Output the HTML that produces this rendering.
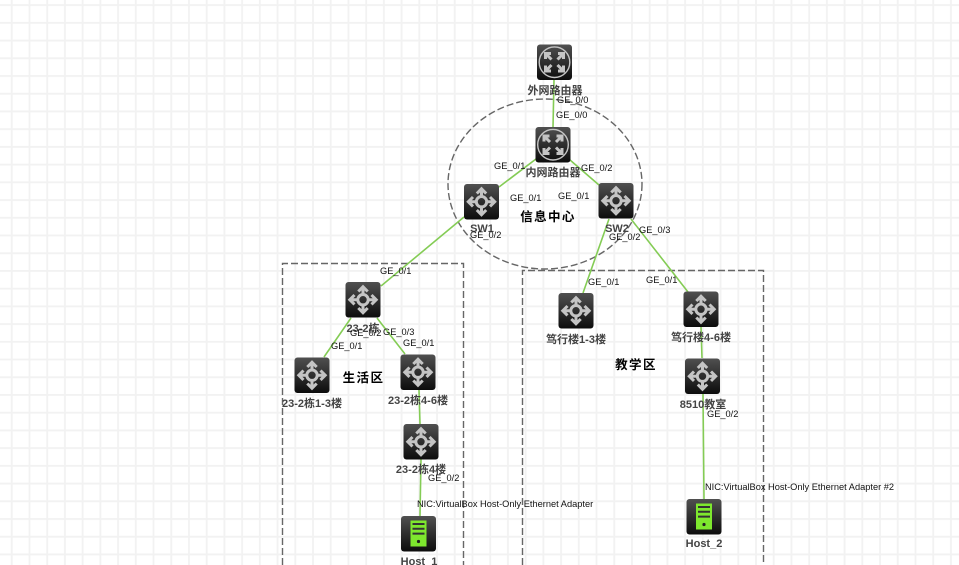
<!DOCTYPE html>
<html><head><meta charset="utf-8"><style>
html,body{margin:0;padding:0;background:#fff;width:959px;height:565px;overflow:hidden}
svg{display:block}
text{font-family:"Liberation Sans","Noto Sans CJK SC",sans-serif}
.p{font-size:9.25px;fill:#111}
.n{font-size:11px;font-weight:bold;fill:#444}
.a{font-size:12.5px;font-weight:bold;fill:#000;letter-spacing:1.4px}
.l{stroke:#84cc55;stroke-width:1.6;fill:none}
.d{stroke:#666;stroke-width:1.4;stroke-dasharray:7 3;fill:none}
</style></head><body>
<svg width="959" height="565" viewBox="0 0 959 565" xmlns="http://www.w3.org/2000/svg">
<defs>
<linearGradient id="g" x1="0" y1="0" x2="0" y2="1"><stop offset="0" stop-color="#505050"/><stop offset="1" stop-color="#0c0c0c"/></linearGradient>
<pattern id="grid" width="17.72" height="17.72" patternUnits="userSpaceOnUse" x="2.9" y="4.2"><path d="M8.86 0V17.72M0 .9H17.72" stroke="#f2f2f2" stroke-width="1.8" fill="none"/></pattern>
<g id="sw"><rect width="35" height="35.5" rx="3" fill="url(#g)"/>
<g stroke="#c4c4c4" stroke-width="3" fill="none"><circle cx="17.5" cy="17.7" r="5.200"/><path d="M17.500 5V12.500M17.500 23V30.500M4.500 17.700H12.300M22.700 17.700H30.500M12.800 9.500L17.500 4.800L22.200 9.500M12.800 26L17.500 30.700L22.200 26M9 13L4.300 17.700L9 22.400M26 13L30.700 17.700L26 22.400"/></g></g>
<g id="rt"><rect width="35" height="35.5" rx="3" fill="url(#g)"/>
<circle cx="17.5" cy="17.7" r="15.300" fill="none" stroke="#c4c4c4" stroke-width="1.400"/>
<g stroke="#c4c4c4" stroke-width="3" fill="none"><path d="M8.500 9L14.500 15M26.500 9L20.500 15M8.500 26.500L14.500 20.500M26.500 26.500L20.500 20.500M8.500 14.500V9H14M26.500 14.500V9H21M8.500 21V26.500H14M26.500 21V26.500H21"/></g></g>
<g id="host"><rect width="35" height="35.500" rx="3" fill="url(#g)"/><rect x="9.500" y="4.500" width="16" height="26" fill="#7ee82e"/><path d="M11.500 8H23.500M11.500 12.800H23.500M11.500 17.600H23.500" stroke="#333" stroke-width="2"/><circle cx="17.500" cy="25.500" r="1.600" fill="#222"/></g>
</defs>
<rect width="959" height="565" fill="url(#grid)"/>
<ellipse cx="545" cy="184" rx="97" ry="85" class="d"/>
<path class="d" d="M282.500 565V263.500H463.500V565"/>
<path class="d" d="M522.500 565V270.500H763.500V565"/>
<path class="l" d="M554 80L553 127M536 159L499 187M570 160L599 185M464 217L381 286M609 219L583 293M631 219L688 292M351 318L324 357M377 318L405 354M419 390L420 424M421 459L420 516M701 327L702 358M703 394L704 499"/>
<use href="#rt" x="537" y="44.500"/>
<use href="#rt" x="535.500" y="127"/>
<use href="#sw" x="464" y="184"/>
<use href="#sw" x="598.500" y="183"/>
<use href="#sw" x="345.500" y="282"/>
<use href="#sw" x="294.500" y="357.500"/>
<use href="#sw" x="400.500" y="354.500"/>
<use href="#sw" x="403.500" y="424"/>
<use href="#host" x="401" y="516"/>
<use href="#sw" x="558.500" y="293"/>
<use href="#sw" x="683.500" y="291.500"/>
<use href="#sw" x="685" y="358.500"/>
<use href="#host" x="686.500" y="499"/>
<g class="n" text-anchor="middle">
<text x="555" y="94">外网路由器</text>
<text x="553" y="176">内网路由器</text>
<text x="482" y="232">SW1</text>
<text x="617" y="232">SW2</text>
<text x="363" y="332">23-2栋</text>
<text x="312" y="407">23-2栋1-3楼</text>
<text x="418" y="404">23-2栋4-6楼</text>
<text x="421" y="473">23-2栋4楼</text>
<text x="419" y="565">Host_1</text>
<text x="576" y="343">笃行楼1-3楼</text>
<text x="701" y="341">笃行楼4-6楼</text>
<text x="703" y="408">8510教室</text>
<text x="704" y="547">Host_2</text>
</g>
<g class="a" text-anchor="middle">
<text x="548" y="221">信息中心</text>
<text x="363.500" y="382">生活区</text>
<text x="636" y="369">教学区</text>
</g>
<g class="p">
<text x="557" y="103">GE_0/0</text>
<text x="556" y="118">GE_0/0</text>
<text x="494" y="169">GE_0/1</text>
<text x="581" y="171">GE_0/2</text>
<text x="510" y="201">GE_0/1</text>
<text x="558" y="199">GE_0/1</text>
<text x="470" y="238">GE_0/2</text>
<text x="609" y="240">GE_0/2</text>
<text x="639" y="233">GE_0/3</text>
<text x="380" y="274">GE_0/1</text>
<text x="588" y="285">GE_0/1</text>
<text x="646" y="283">GE_0/1</text>
<text x="350" y="336">GE_0/2</text>
<text x="383" y="335">GE_0/3</text>
<text x="331" y="349">GE_0/1</text>
<text x="403" y="346">GE_0/1</text>
<text x="428" y="481">GE_0/2</text>
<text x="707" y="417">GE_0/2</text>
<text x="417" y="507">NIC:VirtualBox Host-Only Ethernet Adapter</text>
<text x="705" y="490">NIC:VirtualBox Host-Only Ethernet Adapter #2</text>
</g>
</svg>
</body></html>
